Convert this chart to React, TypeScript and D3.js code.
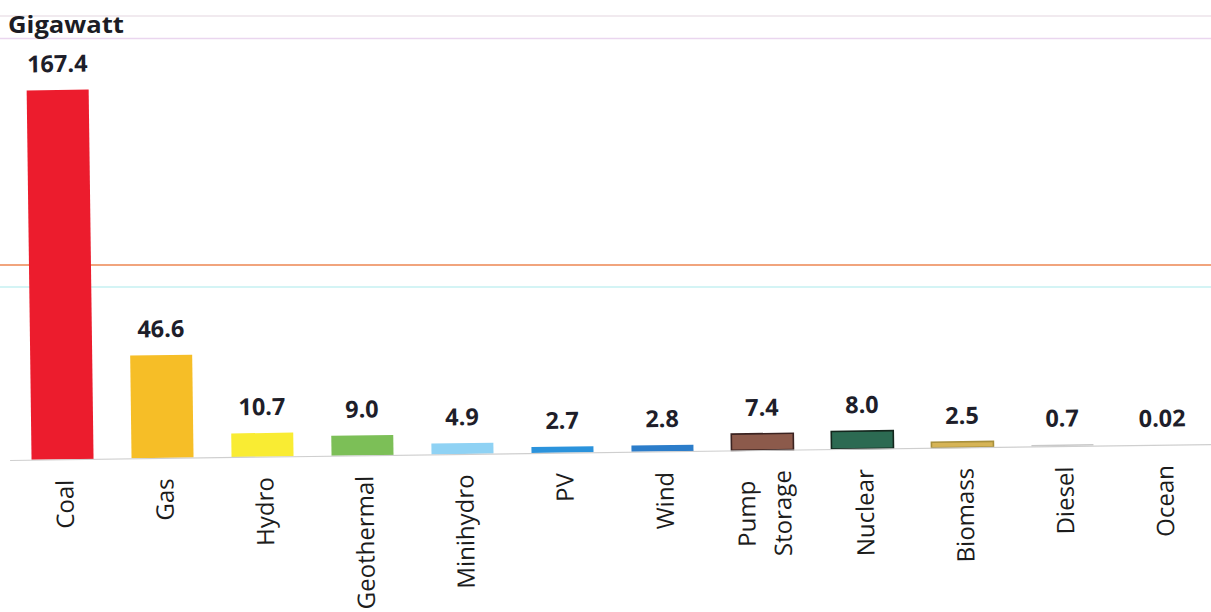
import React from "react";
import * as d3 from "d3";

const categories = ["Coal", "Gas", "Hydro", "Geothermal", "Minihydro", "PV", "Wind", "Pump Storage", "Nuclear", "Biomass", "Diesel", "Ocean"];
const values = [167.4, 46.6, 10.7, 9.0, 4.9, 2.7, 2.8, 7.4, 8.0, 2.5, 0.7, 0.02];
const valueLabels = ["167.4", "46.6", "10.7", "9.0", "4.9", "2.7", "2.8", "7.4", "8.0", "2.5", "0.7", "0.02"];
const fills = ["#ec1c2d", "#f6be27", "#f9ec33", "#7cbf57", "#8fd2f4", "#2b93dc", "#2c7dca", "#8c5a4b", "#2c6a52", "#d6b456", "#c9c9c9", "#9ccbe0"];
const strokes = ["none", "none", "none", "none", "none", "none", "none", "#3b2321", "#14261d", "#a8903c", "none", "none"];
const unitLabel = "Gigawatt";

const W = 1211;
const H = 612;
const baseY = 452;
const pivotX = 612;
const angle = -0.76;
const FONT = "'Open Sans', 'Noto Sans', sans-serif";

export default function App() {
  const x = d3.scaleBand<string>().domain(categories).range([12.5, 1212.5]).paddingInner(0.38).paddingOuter(0.19);
  const y = d3.scaleLinear().domain([0, 167.4]).range([baseY, 82.7]);

  return (
    <svg width={W} height={H} style={{ position: "absolute", left: 0, top: 0, background: "#fff" }}>
      <rect x={0} y={0} width={W} height={H} fill="#ffffff" />
      {/* scan guide lines */}
      <line x1={0} x2={W} y1={16} y2={16} stroke="#ede3ea" strokeWidth={1.5} />
      <line x1={0} x2={W} y1={38.5} y2={38.5} stroke="#ead6ef" strokeWidth={1.5} />
      <line x1={0} x2={W} y1={265} y2={265} stroke="#f1a47d" strokeWidth={2} />
      <line x1={0} x2={W} y1={287} y2={287} stroke="#c6f1f2" strokeWidth={1.5} />

      <text x={8} y={33} fontFamily={FONT} fontWeight={700} fontSize={23} fill="#1c1c24" textLength={116} lengthAdjust="spacingAndGlyphs">
        {unitLabel}
      </text>

      <g transform={`rotate(${angle} ${pivotX} ${baseY})`}>
        {categories.map((c, i) => {
          const bx = x(c) as number;
          const top = y(values[i]);
          const h = Math.max(baseY - top, 0);
          return (
            <rect
              key={"b" + c}
              x={bx}
              y={top}
              width={x.bandwidth()}
              height={h}
              fill={fills[i]}
              stroke={strokes[i]}
              strokeWidth={strokes[i] === "none" ? 0 : 1.6}
            />
          );
        })}
        <line x1={10} x2={1230} y1={baseY + 0.5} y2={baseY + 0.5} stroke="#cfcfcf" strokeWidth={1.2} />
        {categories.map((c, i) => {
          const cx = (x(c) as number) + x.bandwidth() / 2;
          return (
            <text
              key={"v" + c}
              x={cx}
              y={y(values[i]) - 18}
              textAnchor="middle"
              fontFamily={FONT}
              fontWeight={700}
              fontSize={23.5}
              fill="#1e1e2a"
            >
              {valueLabels[i]}
            </text>
          );
        })}
        {categories.map((c) => {
          const cx = (x(c) as number) + x.bandwidth() / 2;
          const lines = c.split(" ");
          const ty = baseY + 20.5;
          if (lines.length === 1) {
            return (
              <text
                key={"c" + c}
                transform={`translate(${cx},${ty}) rotate(-90)`}
                textAnchor="end"
                dy={10.5}
                fontFamily={FONT}
                fontSize={24}
                fill="#1c1c1c"
              >
                {c}
              </text>
            );
          }
          return (
            <g key={"c" + c} transform={`translate(${cx},${ty}) rotate(-90)`}>
              <text x={-43} y={-8} textAnchor="middle" fontFamily={FONT} fontSize={24} fill="#1c1c1c">
                {lines[0]}
              </text>
              <text x={0} y={28} textAnchor="end" fontFamily={FONT} fontSize={24} fill="#1c1c1c">
                {lines[1]}
              </text>
            </g>
          );
        })}
      </g>
    </svg>
  );
}
